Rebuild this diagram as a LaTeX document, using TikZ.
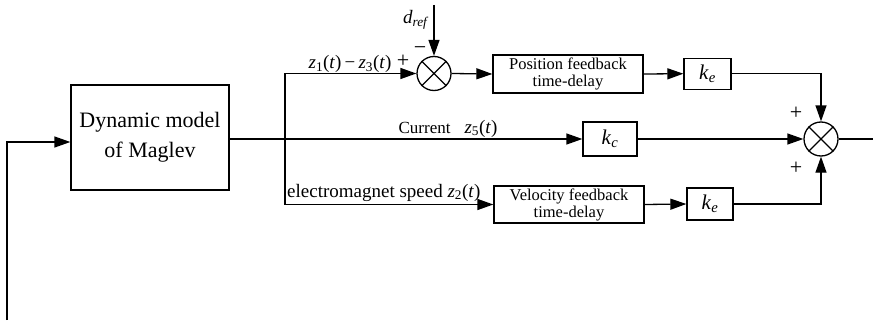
\documentclass[tikz,border=0pt]{standalone}
\usepackage{fontspec}
\setmainfont{Liberation Serif}
\usetikzlibrary{arrows.meta,calc}
\newcommand\zsig[1]{\textit{z}\textsubscript{#1}(\textit{t})}
\newcommand\kgain[1]{\textit{k}\textsubscript{\textit{#1}}}
\begin{document}
\begin{tikzpicture}[x=1pt,y=-1pt,
  ln/.style={line width=1.3pt},
  blk/.style={draw,line width=1.3pt,inner sep=0pt,align=center},
  sumc/.style={draw,circle,line width=1.3pt,minimum size=34pt,inner sep=0pt},
  arr/.style={ln,-{Triangle[length=16pt,width=11pt]}},
  boxfont/.style={font=\fontsize{16.5}{17}\selectfont},
  lbl/.style={inner sep=0pt,font=\fontsize{19}{21}\selectfont},
  gainfont/.style={font=\fontsize{21}{22}\selectfont}]
\useasboundingbox (0,0) rectangle (873,321);
% blocks
\node[blk,minimum width=158pt,minimum height=105pt,font=\fontsize{22}{30}\selectfont] (mag) at (150,137.5) {Dynamic model\\of Maglev};
\node[sumc] (s1) at (434,73.5) {};
\node[blk,boxfont,minimum width=150pt,minimum height=38pt] (pos) at (568,74) {Position feedback\\time-delay};
\node[blk,gainfont,minimum width=47pt,minimum height=31pt] (ke1) at (707.5,73.7) {\kgain{e}};
\node[blk,gainfont,minimum width=54pt,minimum height=34pt] (kc) at (610,139) {\kgain{c}};
\node[blk,boxfont,minimum width=150pt,minimum height=37pt] (vel) at (569,204.5) {Velocity feedback\\time-delay};
\node[blk,gainfont,minimum width=46pt,minimum height=32pt] (ke2) at (710,204) {\kgain{e}};
\node[sumc] (s2) at (821,139) {};
% crosses in summing junctions
\draw[ln] (s1.north east) -- (s1.south west) (s1.north west) -- (s1.south east);
\draw[ln] (s2.north east) -- (s2.south west) (s2.north west) -- (s2.south east);
% free ends
\coordinate (fb) at (7,320);
\coordinate (dr) at (434,5);
\coordinate (out) at (873,139);
\coordinate (br) at (285,139);
% connectors
\draw[arr] (fb) |- ($(mag.west)+(0,4.5)$);
\draw[arr] (mag.east |- kc.west) -- (kc.west);
\draw[arr] (br) |- (s1.west);
\draw[arr] (br) |- (vel.west);
\draw[arr] (dr) -- (s1.north);
\draw[arr] (s1.east) -- (pos.west);
\draw[arr] (pos.east) -- (ke1.west);
\draw[arr] (ke1.east) -| (s2.north);
\draw[arr] (kc.east) -- (s2.west);
\draw[arr] (vel.east) -- (ke2.west);
\draw[arr] (ke2.east) -| (s2.south);
\draw[ln] (s2.east) -- (out);
% labels
\node[lbl] (ldref) at (416,20) {\textit{d}\textsubscript{\textit{ref}}};
\node[lbl,font=\fontsize{22}{22}\selectfont] (lminus) at (420,51) {−};
\node[lbl,font=\fontsize{22}{22}\selectfont] (lplus1) at (403,61) {+};
\node[lbl] (lz13) at (350,64) {\zsig{1}\,−\,\zsig{3}};
\node[lbl,anchor=base] (lcur) at (448,133) {{\fontsize{17}{18}\selectfont Current}\hspace{14pt}\zsig{5}};
\node[lbl,anchor=base west] (lspd) at (287,197) {electromagnet speed \zsig{2}};
\node[lbl,font=\fontsize{22}{22}\selectfont] (lplus2) at (796,113) {+};
\node[lbl,font=\fontsize{22}{22}\selectfont] (lplus3) at (796,168) {+};
\end{tikzpicture}
\end{document}
